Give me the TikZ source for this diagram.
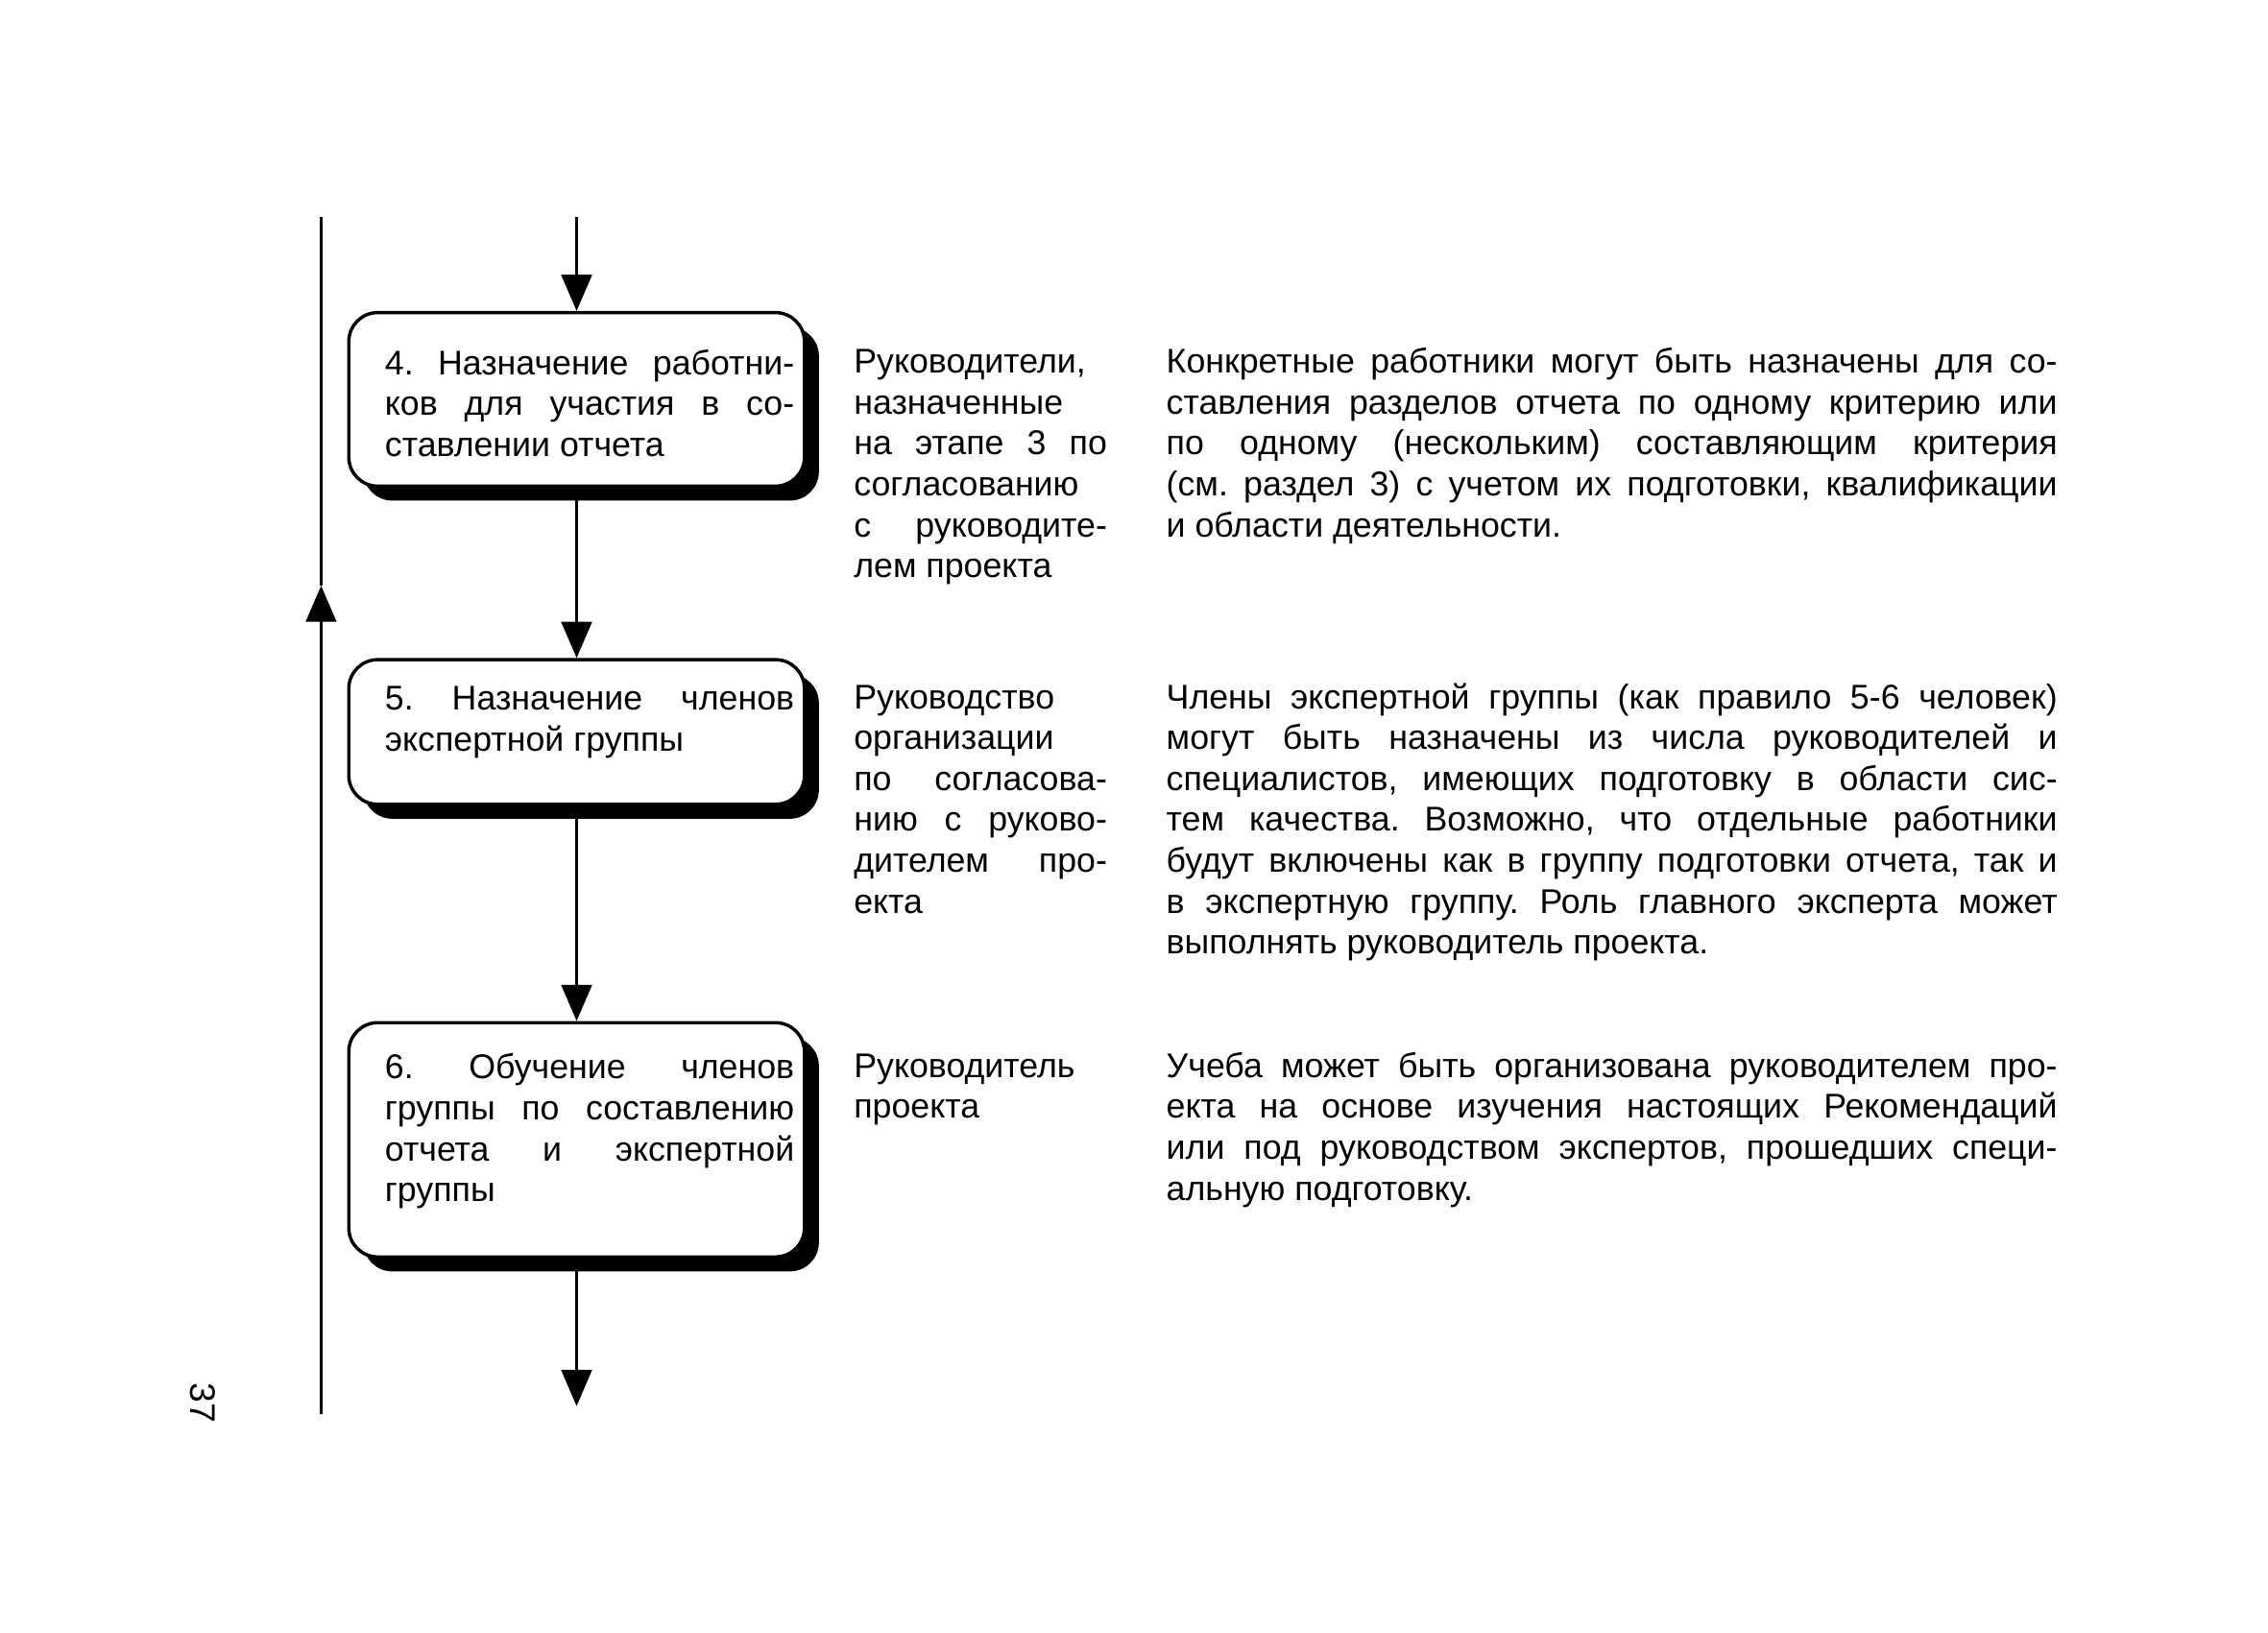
\documentclass[tikz,border=0pt]{standalone}
\usepackage{fontspec}
\setmainfont{Liberation Sans}
\usetikzlibrary{arrows.meta, positioning, shadows}
\tolerance=10000
\hbadness=10000
\frenchspacing

\begin{document}
\begin{tikzpicture}[
    every node/.style={font=\fontsize{13.5}{16.1}\selectfont},
    stage/.style={rectangle, draw=black, line width=1.3pt, rounded corners=0.4cm, fill=white, anchor=north west, text width=6.02cm, inner xsep=0.14cm, inner ysep=0pt, align=justify, execute at begin node={\leftskip=0.36cm\relax}, drop shadow={shadow xshift=0.2cm, shadow yshift=-0.2cm, fill=black, opacity=1}},
    who/.style={anchor=base west, inner sep=0pt, text width=3.5cm, align=justify},
    note/.style={anchor=base west, inner sep=0pt, text width=12.32cm, align=justify},
    flow/.style={line width=1.1pt, -{Triangle[length=0.5cm, width=0.42cm]}},
    plain/.style={line width=1.1pt}
]
\useasboundingbox (0,0) rectangle (31.36,-22.58);

% Stages of the procedure
\node[stage, text height=0.86cm, text depth=1.54cm] (b4) at (4.8,-4.3)
    {4. Назначение работни-\linebreak ков для участия в со-\linebreak ставлении отчета};
\node[stage, text height=0.7cm, text depth=1.3cm] (b5) at (4.8,-9.1)
    {5. Назначение членов\linebreak экспертной группы};
\node[stage, text height=0.78cm, text depth=2.46cm] (b6) at (4.8,-14.12)
    {6. Обучение членов\linebreak группы по составлению\linebreak отчета и экспертной\linebreak группы};

% Who is responsible
\node[who] (who4) at (11.8,-5.16) {Руководители,\linebreak назначенные\linebreak на этапе 3 по\linebreak согласованию\linebreak с руководите-\linebreak лем проекта};
\node[who] (who5) at (11.8,-9.8) {Руководство\linebreak организации\linebreak по согласова-\linebreak нию с руково-\linebreak дителем про-\linebreak екта};
\node[who] (who6) at (11.8,-14.9) {Руководитель\linebreak проекта};

% Comments
\node[note] (note4) at (16.12,-5.16) {Конкретные работники могут быть назначены для со-\linebreak ставления разделов отчета по одному критерию или\linebreak по одному (нескольким) составляющим критерия\linebreak (см. раздел 3) с учетом их подготовки, квалификации\linebreak и области деятельности.};
\node[note] (note5) at (16.12,-9.8) {Члены экспертной группы (как правило 5-6 человек)\linebreak могут быть назначены из числа руководителей и\linebreak специалистов, имеющих подготовку в области сис-\linebreak тем качества. Возможно, что отдельные работники\linebreak будут включены как в группу подготовки отчета, так и\linebreak в экспертную группу. Роль главного эксперта может\linebreak выполнять руководитель проекта.};
\node[note] (note6) at (16.12,-14.9) {Учеба может быть организована руководителем про-\linebreak екта на основе изучения настоящих Рекомендаций\linebreak или под руководством экспертов, прошедших специ-\linebreak альную подготовку.};

% Flow ends and the return line
\coordinate[above=1.3cm of b4.north] (in4);
\coordinate[below=2.04cm of b6.south] (out6);
\coordinate (back-low) at (4.44,-19.56);
\coordinate (back-tip) at (4.44,-8.1);
\coordinate (back-top) at (4.44,-3.0);

\draw[flow] (in4) -- (b4.north);
\draw[flow] (b4.south) -- (b5.north);
\draw[flow] (b5.south) -- (b6.north);
\draw[flow] (b6.south) -- (out6);

\draw[flow] (back-low) -- (back-tip);
\draw[plain] (back-tip) -- (back-top);

% Page number
\node[font=\fontsize{14}{16}\selectfont, rotate=-90] (pagenum) at (2.8,-19.4) {37};

\end{tikzpicture}
\end{document}
